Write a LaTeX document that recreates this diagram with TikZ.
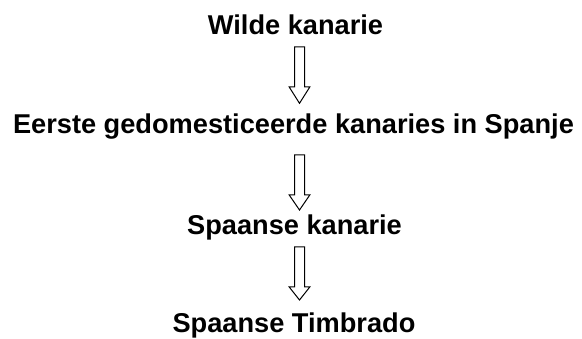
\documentclass[tikz,border=0pt]{standalone}
\usepackage{fontspec}
\setmainfont{Liberation Sans}
\begin{document}
\begin{tikzpicture}[x=1pt,y=-1pt,
  lbl/.style={anchor=base,inner sep=0pt,font=\fontsize{27.2}{30}\selectfont\bfseries},
  blk/.style={draw=black,line width=1pt,fill=white,line join=miter}]
\useasboundingbox (0,0) rectangle (582,339);
\node[lbl] (n1) at (295.5,34.5) {Wilde kanarie};
\node[lbl] (n2) at (293.5,134) {Eerste gedomesticeerde kanaries in Spanje};
\node[lbl] (n3) at (294.5,235) {Spaanse kanarie};
\node[lbl] (n4) at (294,333) {Spaanse Timbrado};
\newcommand\blockarr[4]{%
  \draw[blk] (#1-5,#2) -- (#1+5,#2) -- (#1+5,#3) -- (#1+10.3,#3) -- (#1,#4)
    -- (#1-10.3,#3) -- (#1-5,#3) -- cycle;}
\blockarr{299.5}{47}{87}{103.3}
\blockarr{299.5}{155}{195}{210}
\blockarr{299.5}{247}{287}{300}
\end{tikzpicture}
\end{document}
